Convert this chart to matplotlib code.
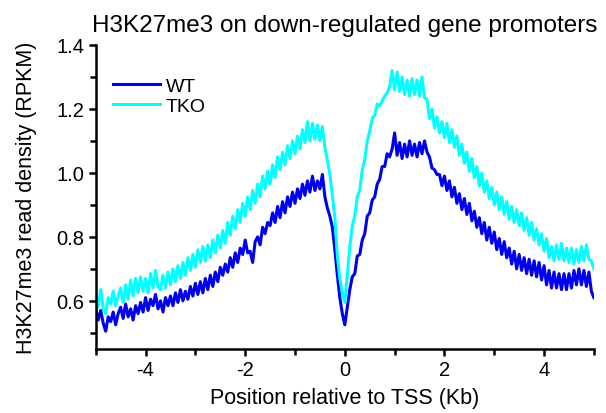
import numpy as np
import matplotlib
matplotlib.use("Agg")
import matplotlib.pyplot as plt
from matplotlib.ticker import MultipleLocator

plt.rcParams['font.family'] = ['Liberation Sans', 'DejaVu Sans']
plt.rcParams['axes.unicode_minus'] = False

# position relative to TSS, kb (step 0.05)
pos = np.round(np.arange(-5.0, 5.0001, 0.05), 2)

wt = [
    0.575, 0.54, 0.57, 0.53, 0.505, 0.55, 0.535, 0.565, 0.525, 0.56,
    0.58, 0.545, 0.59, 0.55, 0.575, 0.54, 0.585, 0.56, 0.595, 0.565,
    0.61, 0.57, 0.605, 0.585, 0.62, 0.575, 0.60, 0.565, 0.61, 0.585,
    0.615, 0.585, 0.625, 0.595, 0.635, 0.60, 0.63, 0.605, 0.645, 0.615,
    0.655, 0.62, 0.66, 0.625, 0.67, 0.635, 0.68, 0.645, 0.69, 0.66,
    0.705, 0.68, 0.715, 0.69, 0.735, 0.705, 0.75, 0.72, 0.765, 0.745,
    0.79, 0.75, 0.755, 0.72, 0.785, 0.80, 0.775, 0.83, 0.81, 0.845,
    0.835, 0.875, 0.845, 0.895, 0.86, 0.91, 0.875, 0.925, 0.895, 0.94,
    0.905, 0.95, 0.92, 0.965, 0.93, 0.975, 0.94, 0.99, 0.945, 0.975,
    0.95, 0.995, 0.925, 0.89, 0.865, 0.83, 0.76, 0.68, 0.61, 0.56,
    0.525, 0.58, 0.635, 0.675, 0.685, 0.74, 0.745, 0.79, 0.81, 0.865,
    0.875, 0.915, 0.925, 0.965, 0.98, 1.02, 1.02, 1.06, 1.05, 1.075,
    1.125, 1.055, 1.095, 1.045, 1.09, 1.05, 1.10, 1.055, 1.09, 1.05,
    1.095, 1.06, 1.10, 1.065, 1.05, 1.015, 1.01, 0.995, 0.995, 0.96,
    0.99, 0.945, 0.975, 0.925, 0.955, 0.905, 0.935, 0.885, 0.92, 0.87,
    0.905, 0.85, 0.88, 0.83, 0.86, 0.81, 0.845, 0.79, 0.83, 0.78,
    0.815, 0.76, 0.795, 0.745, 0.785, 0.735, 0.765, 0.715, 0.755, 0.70,
    0.745, 0.695, 0.735, 0.685, 0.73, 0.68, 0.725, 0.675, 0.72, 0.665,
    0.71, 0.65, 0.695, 0.64, 0.69, 0.64, 0.685, 0.635, 0.685, 0.635,
    0.685, 0.64, 0.695, 0.65, 0.70, 0.65, 0.695, 0.645, 0.69, 0.63,
    0.61,
]

tko = [
    0.625, 0.58, 0.635, 0.575, 0.56, 0.61, 0.59, 0.63, 0.585, 0.615,
    0.64, 0.595, 0.65, 0.605, 0.665, 0.615, 0.67, 0.625, 0.675, 0.63,
    0.67, 0.625, 0.685, 0.64, 0.695, 0.645, 0.635, 0.68, 0.64, 0.69,
    0.65, 0.70, 0.66, 0.71, 0.67, 0.72, 0.68, 0.735, 0.695, 0.745,
    0.705, 0.76, 0.72, 0.77, 0.725, 0.775, 0.735, 0.79, 0.75, 0.805,
    0.765, 0.82, 0.78, 0.845, 0.805, 0.865, 0.825, 0.885, 0.845, 0.905,
    0.865, 0.925, 0.885, 0.945, 0.905, 0.965, 0.925, 0.99, 0.95, 1.005,
    0.965, 1.025, 0.985, 1.05, 1.01, 1.065, 1.025, 1.085, 1.045, 1.10,
    1.06, 1.115, 1.075, 1.135, 1.095, 1.16, 1.10, 1.155, 1.105, 1.15,
    1.10, 1.145, 1.08, 1.04, 0.995, 0.93, 0.86, 0.74, 0.67, 0.625,
    0.595, 0.68, 0.77, 0.835, 0.865, 0.925, 0.945, 1.01, 1.04, 1.10,
    1.13, 1.17, 1.18, 1.215, 1.21, 1.225, 1.24, 1.25, 1.27, 1.32,
    1.26, 1.315, 1.255, 1.30, 1.245, 1.29, 1.24, 1.295, 1.245, 1.29,
    1.24, 1.30, 1.235, 1.23, 1.17, 1.20, 1.14, 1.175, 1.125, 1.16,
    1.11, 1.155, 1.095, 1.135, 1.08, 1.115, 1.055, 1.09, 1.03, 1.065,
    1.005, 1.045, 0.985, 1.02, 0.96, 1.00, 0.94, 0.975, 0.92, 0.955,
    0.90, 0.94, 0.885, 0.925, 0.87, 0.91, 0.855, 0.895, 0.845, 0.885,
    0.835, 0.875, 0.82, 0.86, 0.805, 0.845, 0.79, 0.825, 0.775, 0.81,
    0.755, 0.795, 0.735, 0.77, 0.725, 0.775, 0.73, 0.78, 0.725, 0.765,
    0.72, 0.765, 0.715, 0.76, 0.72, 0.77, 0.725, 0.775, 0.73, 0.725,
    0.70,
]

fig = plt.figure(figsize=(6.06, 4.14), dpi=100)
ax = fig.add_axes([0.158, 0.155, 0.822, 0.734])

ax.plot(pos, wt, color='#0000EE', lw=2.2, label='WT')
ax.plot(pos, tko, color='#00FFFF', lw=2.2, label='TKO')

ax.set_xlim(-5, 5)
ax.set_ylim(0.45, 1.4)
ax.xaxis.set_major_locator(MultipleLocator(2))
ax.xaxis.set_minor_locator(MultipleLocator(1))
ax.yaxis.set_major_locator(MultipleLocator(0.2))
ax.yaxis.set_minor_locator(MultipleLocator(0.1))
ax.yaxis.set_major_formatter(plt.FormatStrFormatter('%.1f'))

for s in ['top', 'right']:
    ax.spines[s].set_visible(False)
for s in ['left', 'bottom']:
    ax.spines[s].set_linewidth(1.8)
ax.tick_params(which='both', direction='out', width=1.8, labelsize=14.5, pad=3)
ax.tick_params(which='major', length=5)
ax.tick_params(which='minor', length=4)

ax.set_xlabel('Position relative to TSS (Kb)', fontsize=15.5, labelpad=6)
ax.set_ylabel('H3K27me3 read density (RPKM)', fontsize=15.5, labelpad=14)
ax.set_title('H3K27me3 on down-regulated gene promoters', fontsize=17.5, pad=10)

ax.legend(loc='upper left', frameon=False, fontsize=14, handlelength=2.4,
          handletextpad=0.3, labelspacing=0.1, bbox_to_anchor=(0.0, 0.95))

fig.savefig('out.png', dpi=100)
